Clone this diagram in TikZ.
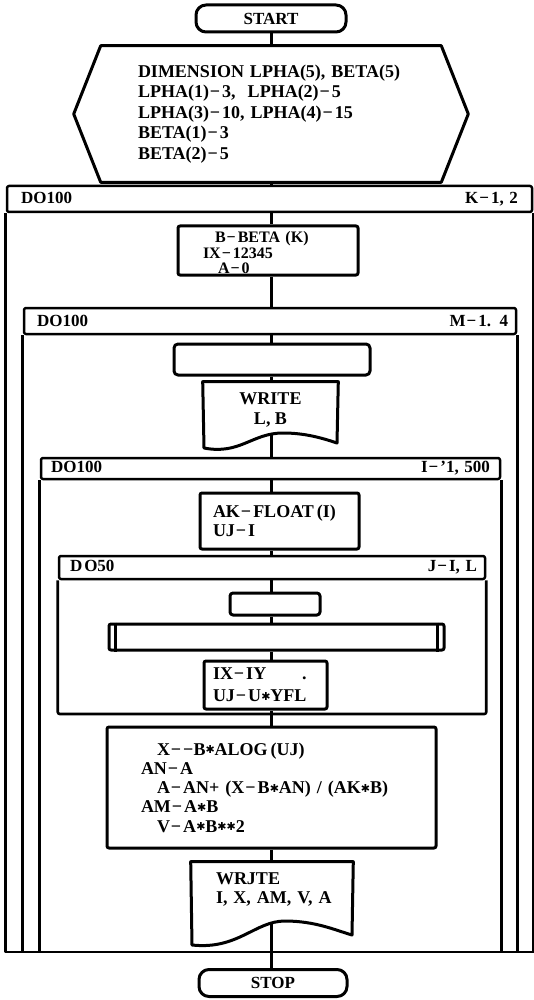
\documentclass[tikz,border=0pt]{standalone}
\usepackage{fontspec}
\setmainfont{Liberation Serif}[Ligatures=TeX]
\newfontfamily\djv{DejaVu Sans}
\usetikzlibrary{calc}
\newcommand\mn{\kern1pt−\kern2pt}
\newcommand\st{{\djv\fontsize{11}{11}\selectfont\raisebox{1.5pt}{✱}}}
\begin{document}
\begin{tikzpicture}[x=1pt,y=-1pt,line width=2.6pt,line join=round,
  every node/.style={inner sep=0pt,font=\bfseries\fontsize{18}{20}\selectfont},
  boxst/.style={draw,line width=3pt,rounded corners=2pt},
  termst/.style={draw,line width=3pt,rounded corners=10pt,font=\bfseries\fontsize{17}{20}\selectfont},
  headst/.style={draw,line width=2.5pt,rounded corners=2pt,align=left,font=\bfseries\fontsize{17}{20}\selectfont},
  conn/.style={line width=3pt}]
\useasboundingbox (0,0) rectangle (534,1000);
\coordinate (ax) at (271,0);
\coordinate (bot) at (0,952);
\coordinate (jb) at (0,714);

% start and declarations
\node[termst,minimum width=150pt,minimum height=27pt] (start) at (271,18.5) {START};
\node[minimum width=392pt,minimum height=134pt,text width=392pt,align=left,
      font=\bfseries\fontsize{18}{20.5}\selectfont] (hex) at (271,114)
 {\hspace*{63pt}DIMENSION LPHA(5), BETA(5)\\
  \hspace*{63pt}LPHA(1)\mn 3,\ \ LPHA(2)\mn 5\\
  \hspace*{63pt}LPHA(3)\mn 10, LPHA(4)\mn 15\\
  \hspace*{63pt}BETA(1)\mn 3\\
  \hspace*{63pt}BETA(2)\mn 5};
\draw[line width=3pt] (hex.west) -- ($(hex.north west)+(27,0)$) -- ($(hex.north east)+(-27,0)$)
  -- (hex.east) -- ($(hex.south east)+(-27,0)$) -- ($(hex.south west)+(27,0)$) -- cycle;

% K loop
\node[headst,minimum width=525pt,minimum height=26pt,text width=497pt,inner xsep=14pt] (Khead) at (269.5,199) {DO100\hfill K\mn 1, 2};
\draw (Khead.south west) -- (Khead.south west |- bot) -- (Khead.south east |- bot) -- (Khead.south east);
\node[boxst,minimum width=180pt,minimum height=49pt,text width=180pt,align=left,
      font=\bfseries\fontsize{16}{15.5}\selectfont] (bbox) at (268,250.5)
 {\rule{0pt}{16pt}\hspace*{37pt}B\mn BETA (K)\\\hspace*{25pt}IX\mn 12345\\\hspace*{40pt}A\mn 0};

% M loop
\node[headst,minimum width=492pt,minimum height=26pt,text width=476pt,inner xsep=8pt] (Mhead) at (270,321) {\hspace*{5pt}DO100\hfill M\mn 1. 4};
\draw (Mhead.south west) -- (Mhead.south west |- bot);
\draw (Mhead.south east) -- (Mhead.south east |- bot);
\node[boxst,rounded corners=4pt,minimum width=196pt,minimum height=31pt] (blank) at (272,359.5) {};
\node[minimum width=133pt,minimum height=54pt,align=center] (write) at (270.5,410) {WRITE\\L, B};
\draw[line width=3pt] (write.north east) -- (write.north west) -- (204,448)
  .. controls (240,455) and (252,433) .. (283,433)
  .. controls (305,433) and (322,438) .. (337,443) -- cycle;
\coordinate (writeb) at (271,435);

% I loop
\node[headst,minimum width=459pt,minimum height=21pt,text width=439pt,inner xsep=10pt] (Ihead) at (270.5,468.5) {DO100\hfill I\mn '1, 500};
\draw (Ihead.south west) -- (Ihead.south west |- bot);
\draw (Ihead.south east) -- (Ihead.south east |- bot);
\node[boxst,minimum width=159pt,minimum height=56pt,text width=159pt,align=left,
      font=\bfseries\fontsize{18}{19}\selectfont] (ak) at (279.5,521)
 {\hspace*{13pt}AK\mn FLOAT\,(I)\\\hspace*{13pt}UJ\mn I};

% J loop
\node[headst,minimum width=426pt,minimum height=23pt,text width=410pt,inner xsep=8pt] (Jhead) at (272,567.5) {\hspace*{3pt}D\kern2pt O50\hfill J\mn I, L};
\draw[rounded corners=2pt] (Jhead.south west) -- (Jhead.south west |- jb) -- (Jhead.south east |- jb) -- (Jhead.south east);
\node[boxst,rounded corners=3pt,minimum width=90pt,minimum height=22pt] (small) at (275,604) {};
\node[boxst,minimum width=335pt,minimum height=26pt] (pp) at (276.5,637) {};
\draw[line width=2.6pt] ($(pp.north west)+(8,0)$) -- ($(pp.south west)+(8,0)$);
\draw[line width=2.6pt] ($(pp.north east)+(-8,0)$) -- ($(pp.south east)+(-8,0)$);
\node[boxst,minimum width=123pt,minimum height=48pt,text width=123pt,align=left,
      font=\bfseries\fontsize{18}{22}\selectfont] (ix) at (265.5,685)
 {\hspace*{9pt}IX\mn IY\hspace{36pt}.\\\hspace*{9pt}UJ\mn U\st YFL};

% body after J loop
\node[boxst,minimum width=329pt,minimum height=121pt,text width=329pt,align=left,
      font=\bfseries\fontsize{18}{19.3}\selectfont] (big) at (271.5,787.5)
 {\hspace*{50pt}X\mn −B\st ALOG\,(UJ)\\
  \hspace*{34pt}AN\mn A\\
  \hspace*{50pt}A\mn AN+ (X\mn B\st AN) / (AK\st B)\\
  \hspace*{34pt}AM\mn A\st B\\
  \hspace*{50pt}V\mn A\st B\st\st 2};
\node[minimum width=160pt,minimum height=52pt,text width=160pt,align=left,
      font=\bfseries\fontsize{18}{19}\selectfont] (wrjte) at (272,889)
 {\hspace*{24pt}WRJTE\\\hspace*{24pt}I, X, AM, V, A};
\draw[line width=3pt] (wrjte.north east) -- (wrjte.north west) -- (192,945)
  .. controls (238,950) and (255,921) .. (285,921)
  .. controls (315,921) and (335,930) .. (352,935) -- cycle;
\coordinate (wrjteb) at (271,923);

\node[termst,minimum width=148pt,minimum height=27pt] (stop) at (273,983) {STOP};

% connectors
\draw[conn] (start.south -| ax) -- (hex.north -| ax);
\draw[conn] (hex.south -| ax) -- (Khead.north -| ax);
\draw[conn] (Khead.south -| ax) -- (bbox.north -| ax);
\draw[conn] (bbox.south -| ax) -- (Mhead.north -| ax);
\draw[conn] (Mhead.south -| ax) -- (blank.north -| ax);
\draw[conn] (blank.south -| ax) -- (write.north -| ax);
\draw[conn] (writeb) -- (Ihead.north -| ax);
\draw[conn] (Ihead.south -| ax) -- (ak.north -| ax);
\draw[conn] (ak.south -| ax) -- (Jhead.north -| ax);
\draw[conn] (Jhead.south -| ax) -- (small.north -| ax);
\draw[conn] (small.south -| ax) -- (pp.north -| ax);
\draw[conn] (pp.south -| ax) -- (ix.north -| ax);
\draw[conn] (ix.south -| ax) -- (big.north -| ax);
\draw[conn] (big.south -| ax) -- (wrjte.north -| ax);
\draw[conn] (wrjteb) -- (stop.north -| ax);
\end{tikzpicture}
\end{document}
